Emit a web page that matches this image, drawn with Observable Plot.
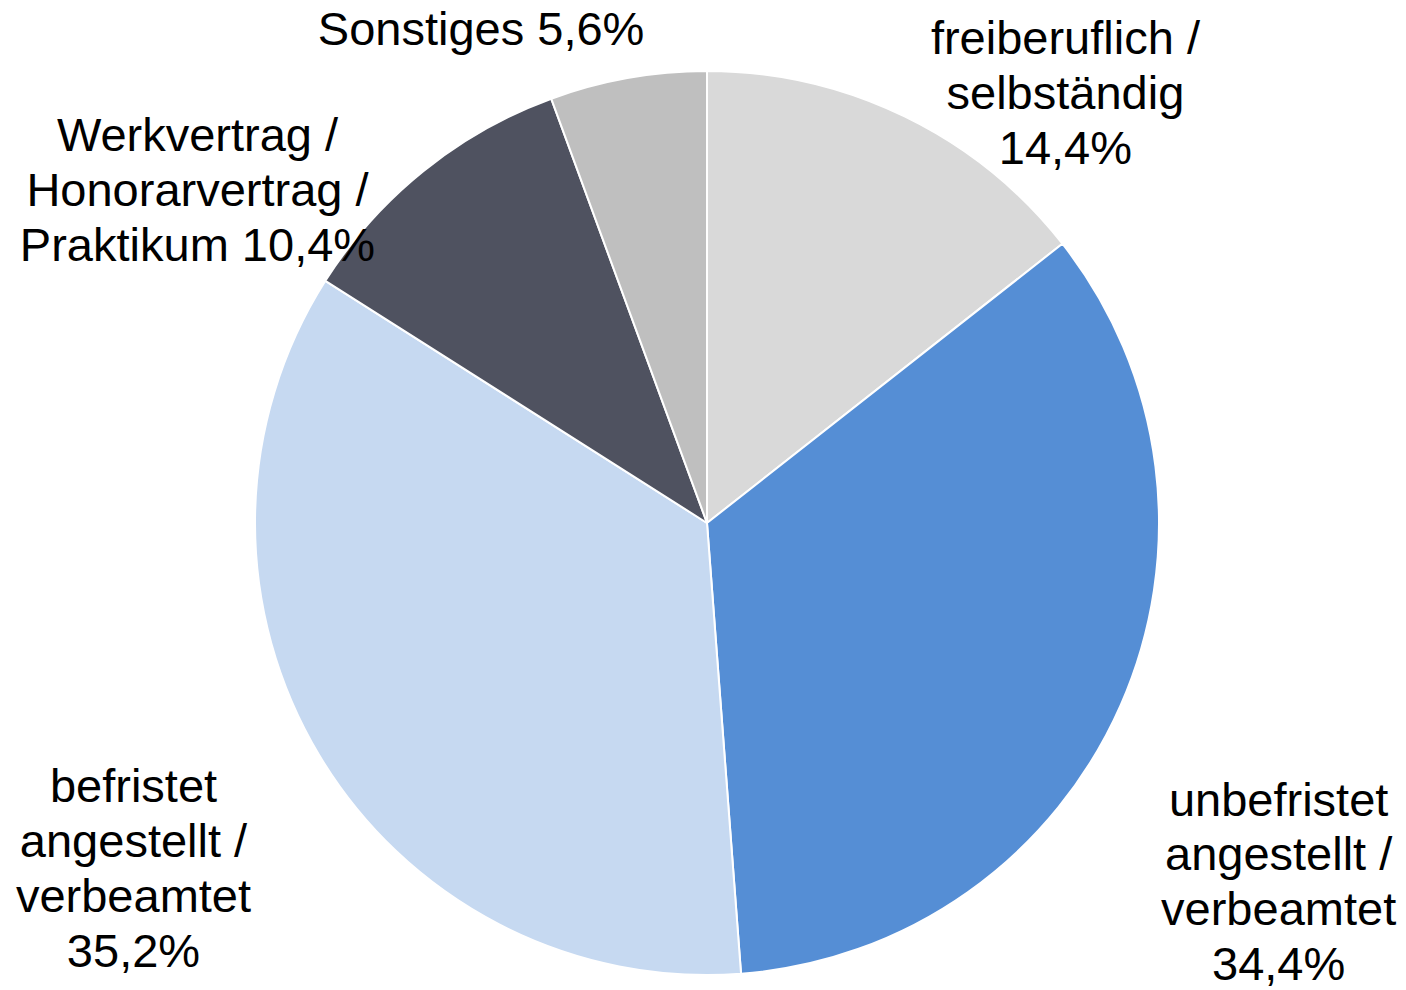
<!DOCTYPE html>
<html>
<head>
<meta charset="utf-8">
<script src="https://cdn.jsdelivr.net/npm/d3@7"></script>
<script src="https://cdn.jsdelivr.net/npm/@observablehq/plot@0.6"></script>
<style>
  html, body { margin: 0; padding: 0; background: #ffffff; }
  #chart { width: 1406px; height: 990px; }
</style>
</head>
<body>
<div id="chart"></div>
<script>
// ---- data ----
const categories = [
  "freiberuflich / selbständig",
  "unbefristet angestellt / verbeamtet",
  "befristet angestellt / verbeamtet",
  "Werkvertrag / Honorarvertrag / Praktikum",
  "Sonstiges"
];
const values = [14.4, 34.4, 35.2, 10.4, 5.6];
const labelTexts = [
  "freiberuflich /\nselbständig\n14,4%",
  "unbefristet\nangestellt /\nverbeamtet\n34,4%",
  "befristet\nangestellt /\nverbeamtet\n35,2%",
  "Werkvertrag /\nHonorarvertrag /\nPraktikum 10,4%",
  "Sonstiges 5,6%"
];

// ---- styles / layout ----
const colors = ["#d9d9d9", "#558ed5", "#c6d9f1", "#4f5260", "#bfbfbf"];
const labelAngle = [39.65, 122.0, 239.1, 303.3, 335.46];  // degrees, clockwise from top
const labelDist  = [1.241, 1.490, 1.480, 1.350, 1.206];   // in pie radii

const W = 1406, H = 990, CX = 707, CY = 523, R = 452;

const slices = categories.map((c, i) => ({category: c, value: values[i]}));
const labels = categories.map((c, i) => ({
  category: c,
  text: labelTexts[i],
  x: labelDist[i] * Math.sin(labelAngle[i] * Math.PI / 180),
  y: labelDist[i] * Math.cos(labelAngle[i] * Math.PI / 180)
}));

const pieGen = d3.pie().sort(null).value(d => d.value);

const chart = Plot.plot({
  width: W,
  height: H,
  margin: 0,
  style: {background: "#ffffff", fontFamily: "'Liberation Sans', Arial, sans-serif"},
  x: {domain: [-CX / R, (W - CX) / R], range: [0, W], axis: null},
  y: {domain: [-(H - CY) / R, CY / R], range: [H, 0], axis: null},
  color: {type: "ordinal", domain: categories, range: colors},
  marks: [
    Plot.dot(slices, {
      x: () => 0,
      y: () => 0,
      fill: "category",
      render(index, scales, vals, dimensions, context) {
        const cx = scales.x(0), cy = scales.y(0);
        const r = scales.x(1) - scales.x(0);
        const arcs = pieGen(slices);
        const arc = d3.arc().innerRadius(0).outerRadius(r);
        const g = d3.create("svg:g").attr("transform", `translate(${cx},${cy})`);
        g.selectAll("path")
          .data(index)
          .join("path")
          .attr("d", i => arc(arcs[i]))
          .attr("fill", i => vals.fill[i])
          .attr("stroke", "#ffffff")
          .attr("stroke-width", 2)
          .attr("stroke-linejoin", "round");
        return g.node();
      }
    }),
    Plot.text(labels, {
      x: "x",
      y: "y",
      text: "text",
      fontSize: 47,
      lineHeight: 1.17,
      textAnchor: "middle",
      lineAnchor: "middle",
      fill: "#000000"
    })
  ]
});

document.getElementById("chart").appendChild(chart);
</script>
</body>
</html>
